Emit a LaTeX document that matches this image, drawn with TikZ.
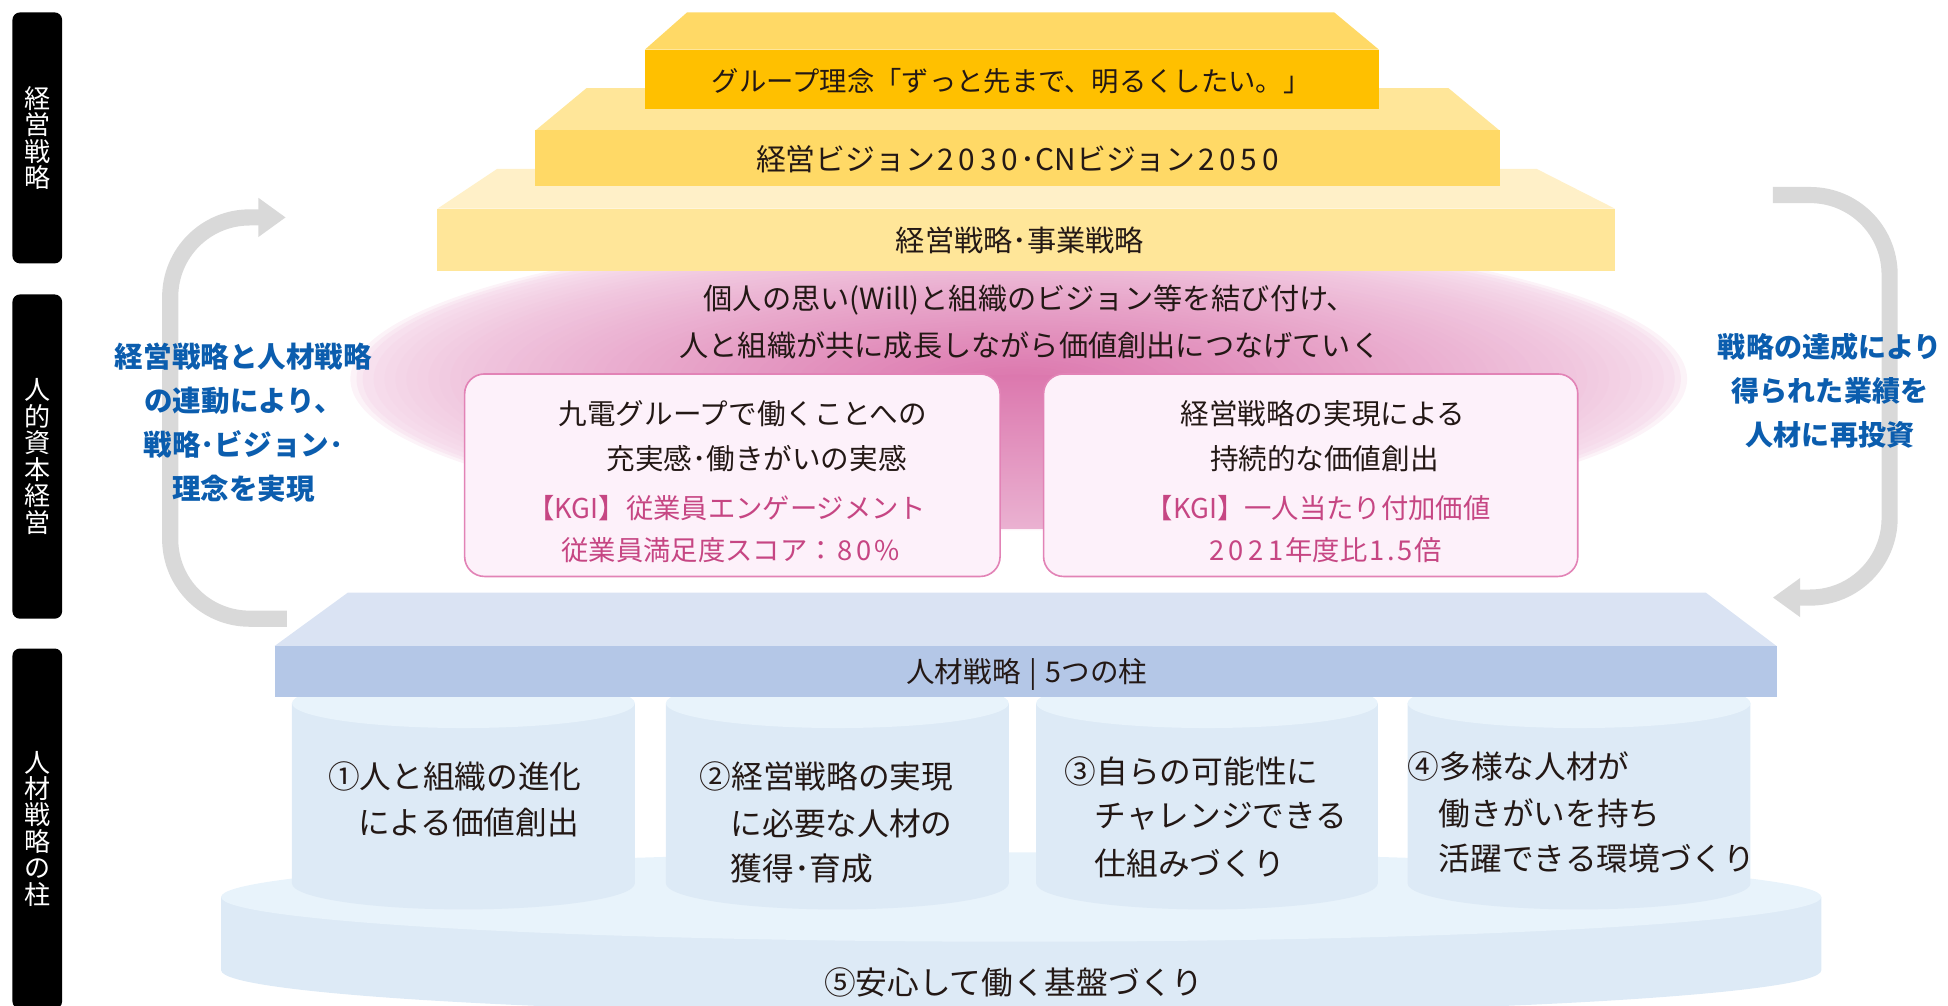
\documentclass[tikz,border=0pt]{standalone}
\usepackage{fontspec}
\setmainfont{Noto Sans CJK JP}
\usetikzlibrary{arrows.meta}
\definecolor{txtdark}{HTML}{231815}
\definecolor{bluetxt}{HTML}{0B5DAE}
\definecolor{kgi}{HTML}{C64683}
\definecolor{sAfront}{HTML}{FFC000}
\definecolor{sAtop}{HTML}{FFD966}
\definecolor{sBfront}{HTML}{FFD966}
\definecolor{sBtop}{HTML}{FFE699}
\definecolor{sCfront}{HTML}{FFE699}
\definecolor{sCtop}{HTML}{FFF0C8}
\definecolor{gdark}{HTML}{DC78AE}
\definecolor{glight}{HTML}{F7E0EE}
\definecolor{gstemb}{HTML}{EAB1D1}
\definecolor{boxfill}{HTML}{FDF1FA}
\definecolor{boxline}{HTML}{E283B6}
\definecolor{beamfront}{HTML}{B4C7E7}
\definecolor{beamtop}{HTML}{DAE3F3}
\definecolor{pilbody}{HTML}{DDEAF6}
\definecolor{piltop}{HTML}{E8F3FB}
\definecolor{discfront}{HTML}{DDEAF6}
\definecolor{disctop}{HTML}{E8F3FB}
\definecolor{arrowgray}{HTML}{D9D9D9}
\newcommand\wdig[1]{\makebox[0.72em]{#1}}
\begin{document}
\begin{tikzpicture}[x=1pt,y=-1pt,
  lbl/.style={fill=black, rounded corners=6pt, minimum width=40pt, text=white, align=center, inner sep=0pt, font=\fontsize{21}{21.3}\selectfont},
  jt/.style={text=txtdark, inner sep=0pt},
  stepfont/.style={font=\fontsize{22}{22}\selectfont},
  glowfont/.style={font=\fontsize{23.5}{23.5}\selectfont},
  boxfont/.style={font=\fontsize{23}{23}\selectfont},
  kgifont/.style={text=kgi, inner sep=0pt, font=\fontsize{22}{22}\selectfont},
  pilfont/.style={text=txtdark, inner sep=0pt, anchor=west, font=\fontsize{25.5}{25.5}\selectfont},
  kbox/.style={draw=boxline, line width=1.3pt, fill=boxfill, rounded corners=16pt, inner sep=0pt},
  bluenote/.style={text=bluetxt, align=center, inner sep=0pt, font=\bfseries\fontsize{23}{35.4}\selectfont},
  cyc/.style={draw=arrowgray, line width=13pt, rounded corners=64pt, -{Triangle[length=22pt,width=30pt]}}
]
\useasboundingbox (0,0) rectangle (1568,809);

% ---------- side labels ----------
\node[lbl, minimum height=202pt] (lab1) at (30,111) {経\\営\\戦\\略};
\node[lbl, minimum height=261pt] (lab2) at (30,367.5) {人\\的\\資\\本\\経\\営};
\node[lbl, minimum height=290pt] (lab3) at (30,667) {人\\材\\戦\\略\\の\\柱};

% ---------- pink glow ----------
\fill[glight!40!white] (820,305) ellipse [x radius=538, y radius=122];
\fill[glight!75!white] (820,305) ellipse [x radius=533, y radius=120];
\foreach \i in {0,...,59}{
  \pgfmathsetmacro\s{1-\i/60}
  \pgfmathsetmacro\p{100*(\i/59)^0.75}
  \fill[gdark!\p!glight] (820,305) ellipse [x radius={528*\s}, y radius={118*\s}];
}
\shade[top color=gdark, bottom color=gstemb] (792,302) rectangle (852,425);

% ---------- pyramid ----------
\fill[sCtop] (400,136) -- (1237,136) -- (1300,168) -- (352,168) -- cycle;
\fill[sCfront] (352,168) rectangle (1300,218);
\fill[sBtop] (472,71) -- (1166,71) -- (1207,105) -- (431,105) -- cycle;
\fill[sBfront] (431,105) rectangle (1207,150);
\fill[sAtop] (553,10) -- (1074,10) -- (1110,40) -- (519,40) -- cycle;
\fill[sAfront] (519,40) rectangle (1110,87.5);

\node[jt, stepfont] (rinen) at (814,65) {グループ理念「ずっと先まで、明るくしたい。」};
\node[jt, font=\fontsize{24}{24}\selectfont] (vision) at (820,128.5) {経営ビジョン\wdig2\wdig0\wdig3\wdig0･CNビジョン\wdig2\wdig0\wdig5\wdig0};
\node[jt, font=\fontsize{23.5}{23.5}\selectfont] (senryaku) at (821,193.5) {経営戦略･事業戦略};

% ---------- glow text ----------
\node[jt, glowfont] (g1) at (829,241.5) {個人の思い(Will)と組織のビジョン等を結び付け、};
\node[jt, glowfont] (g2) at (829,278) {人と組織が共に成長しながら価値創出につなげていく};

% ---------- KGI boxes ----------
\node[kbox, minimum width=431pt, minimum height=163pt] (boxL) at (589.5,382.5) {};
\node[kbox, minimum width=430pt, minimum height=163pt] (boxR) at (1055,382.5) {};

\node[jt, boxfont] (l1) at (598,333) {九電グループで働くことへの};
\node[jt, boxfont] (l2) at (609,369) {充実感･働きがいの実感};
\node[kgifont] (l3) at (585,409) {【KGI】従業員エンゲージメント};
\node[kgifont] (l4) at (588,443) {従業員満足度スコア：\wdig8\wdig0\%};

\node[jt, boxfont] (r1) at (1065,333) {経営戦略の実現による};
\node[jt, boxfont] (r2) at (1066,369) {持続的な価値創出};
\node[kgifont] (r3) at (1061,409) {【KGI】一人当たり付加価値};
\node[kgifont] (r4) at (1066,443) {\wdig2\wdig0\wdig2\wdig1年度比\wdig1.\wdig5倍};

% ---------- cycle arrows ----------
\coordinate (la0) at (231,498);
\coordinate (la1) at (137,498);
\coordinate (la2) at (137,175);
\coordinate (la3) at (230,175);
\draw[cyc] (la0) -- (la1) -- (la2) -- (la3);
\coordinate (ra0) at (1427,157);
\coordinate (ra1) at (1521,157);
\coordinate (ra2) at (1521,481);
\coordinate (ra3) at (1427,481);
\draw[cyc] (ra0) -- (ra1) -- (ra2) -- (ra3);

\node[bluenote] (noteL) at (196,340) {経営戦略と人材戦略\\の連動により、\\戦略･ビジョン･\\理念を実現};
\node[bluenote, font=\bfseries\fontsize{22.6}{35.5}\selectfont] (noteR) at (1473,314.5) {戦略の達成により\\得られた業績を\\人材に再投資};

% ---------- base disc ----------
\fill[discfront] (178,722) -- (178,781) arc[start angle=180, end angle=0, x radius=644, y radius=36] -- (1466,722) -- cycle;
\fill[disctop] (822,722) ellipse [x radius=644, y radius=36];

% ---------- pillars ----------
\foreach \a/\b in {235/511, 536/812, 834/1109, 1133/1409}{
  \pgfmathsetmacro\c{(\a+\b)/2}
  \pgfmathsetmacro\r{(\b-\a)/2}
  \fill[pilbody] (\a,566) -- (\a,711) arc[start angle=180, end angle=0, x radius=\r, y radius=21] -- (\b,566) -- cycle;
  \fill[piltop] (\c,566) ellipse [x radius=\r, y radius=20];
}

% ---------- beam ----------
\fill[beamtop] (280,477) -- (1373,477) -- (1430,520) -- (221,520) -- cycle;
\fill[beamfront] (221,520) rectangle (1430,561);
\node[jt, font=\fontsize{23}{23}\selectfont] (beam) at (826.5,543) {人材戦略\hspace{7pt}|\hspace{7pt}5つの柱};

% ---------- pillar texts ----------
\node[pilfont] (p1a) at (264,625) {①人と組織の進化};
\node[pilfont] (p1b) at (288,662) {による価値創出};
\node[pilfont] (p2a) at (563,625) {②経営戦略の実現};
\node[pilfont] (p2b) at (588,663) {に必要な人材の};
\node[pilfont] (p2c) at (588,699) {獲得･育成};
\node[pilfont] (p3a) at (857,621) {③自らの可能性に};
\node[pilfont] (p3b) at (881,657) {チャレンジできる};
\node[pilfont] (p3c) at (881,695) {仕組みづくり};
\node[pilfont] (p4a) at (1133,617) {④多様な人材が};
\node[pilfont] (p4b) at (1158,655) {働きがいを持ち};
\node[pilfont] (p4c) at (1158,691) {活躍できる環境づくり};
\node[jt, font=\fontsize{25.5}{25.5}\selectfont] (p5) at (816,791) {⑤安心して働く基盤づくり};
\end{tikzpicture}
\end{document}
